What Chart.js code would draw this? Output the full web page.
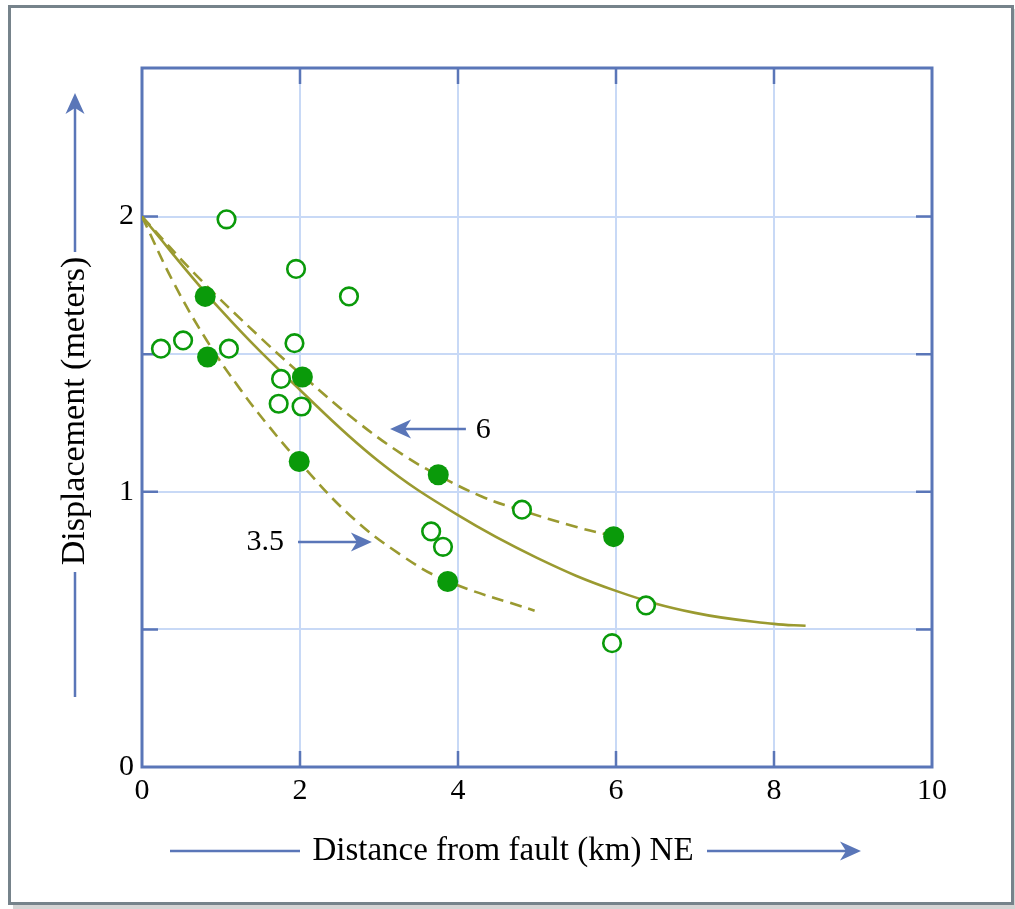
<!DOCTYPE html>
<html>
<head>
<meta charset="utf-8">
<script src="https://cdn.jsdelivr.net/npm/chart.js@4"></script>
<style>
  html, body { margin: 0; padding: 0; background: #fff; overflow: hidden; }
  #wrap { position: relative; width: 1015px; height: 909px; }
  #frame {
    position: absolute; left: 8px; top: 5px; width: 1000px; height: 894px;
    border: 3px solid #76838b; box-shadow: 5px 4px 0 #d4d4d4; pointer-events: none;
  }
</style>
</head>
<body>
<div id="wrap">
  <canvas id="faultChart"></canvas>
  <div id="frame"></div>
</div>
<script>
// measured points (km from fault, displacement in m)
var openX = [1.07, 1.95, 2.62, 0.24, 0.52, 1.10, 1.93, 1.76, 1.73, 2.02, 3.66, 3.81, 4.81, 6.38, 5.95];
var openY = [1.99, 1.81, 1.71, 1.52, 1.55, 1.52, 1.54, 1.41, 1.32, 1.31, 0.856, 0.80, 0.935, 0.587, 0.45];
var filledX = [0.80, 0.83, 2.03, 1.99, 3.75, 3.87, 5.97];
var filledY = [1.71, 1.49, 1.417, 1.11, 1.062, 0.674, 0.837];

// fitted curves
var solidX = [0, 1, 2, 3, 4, 5, 6, 7, 8, 8.4];
var solidY = [2.0, 1.66, 1.37, 1.11, 0.915, 0.76, 0.64, 0.56, 0.52, 0.513];
var upperX = [0, 0.7, 1.5, 2.1, 2.7, 3.3, 3.75, 4.3, 4.8, 5.5, 6.0];
var upperY = [2, 1.783, 1.56, 1.405, 1.26, 1.135, 1.06, 0.983, 0.933, 0.872, 0.837];
var lowerX = [0, 0.4, 0.82, 1.24, 1.62, 1.98, 2.63, 3.27, 3.86, 4.97];
var lowerY = [2, 1.76, 1.55, 1.374, 1.233, 1.112, 0.915, 0.772, 0.676, 0.568];

var xTicks = [0, 2, 4, 6, 8, 10];
var yTicks = [0, 0.5, 1, 1.5, 2];
var yLabels = ['0', '', '1', '', '2'];

var curveLabels = ['6', '3.5'];

var xTitle = 'Distance from fault (km) NE';
var yTitle = 'Displacement (meters)';

var GREEN = '#0a9a0a';
var OLIVE = '#9a9a30';
var BLUE = '#5a76b8';
var GRID = '#c8d9f6';
var SERIF = '"Liberation Serif", "Times New Roman", serif';

function pts(xs, ys) {
  return xs.map(function (x, i) { return { x: x, y: ys[i] }; });
}

function arrowHead(ctx, tx, ty, dir) {
  // dir: angle the arrow points to
  ctx.save();
  ctx.translate(tx, ty);
  ctx.rotate(dir);
  ctx.beginPath();
  ctx.moveTo(0, 0);
  ctx.lineTo(-21, -9.5);
  ctx.lineTo(-15, 0);
  ctx.lineTo(-21, 9.5);
  ctx.closePath();
  ctx.fill();
  ctx.restore();
}

var frameAndLabels = {
  id: 'frameAndLabels',
  beforeDatasetsDraw: function (chart) {
    var ctx = chart.ctx, a = chart.chartArea;
    var xs = chart.scales.x, ys = chart.scales.y;
    ctx.save();
    ctx.strokeStyle = BLUE;
    ctx.lineWidth = 3;
    ctx.strokeRect(a.left, a.top, a.right - a.left, a.bottom - a.top);
    ctx.lineWidth = 2.5;
    ctx.beginPath();
    yTicks.forEach(function (v) {
      if (v === 0) return;
      var py = ys.getPixelForValue(v);
      ctx.moveTo(a.left, py); ctx.lineTo(a.left + 16, py);
      ctx.moveTo(a.right, py); ctx.lineTo(a.right - 16, py);
    });
    xTicks.forEach(function (v) {
      if (v === 0 || v === 10) return;
      var px = xs.getPixelForValue(v);
      ctx.moveTo(px, a.bottom); ctx.lineTo(px, a.bottom - 16);
      ctx.moveTo(px, a.top); ctx.lineTo(px, a.top + 16);
    });
    ctx.stroke();
    ctx.restore();
  },
  afterDraw: function (chart) {
    var ctx = chart.ctx;
    var xs = chart.scales.x, ys = chart.scales.y;
    ctx.save();
    ctx.fillStyle = '#000';
    ctx.strokeStyle = BLUE;
    ctx.lineWidth = 2.5;

    // curve annotations with arrows
    ctx.font = '30px ' + SERIF;
    ctx.textAlign = 'center';
    ctx.textBaseline = 'middle';
    ctx.fillText(curveLabels[0], xs.getPixelForValue(4.32), ys.getPixelForValue(1.225));
    ctx.fillText(curveLabels[1], xs.getPixelForValue(1.56), ys.getPixelForValue(0.818));

    var y6 = ys.getPixelForValue(1.228);
    ctx.beginPath();
    ctx.moveTo(xs.getPixelForValue(4.10), y6);
    ctx.lineTo(xs.getPixelForValue(3.20), y6);
    ctx.stroke();
    ctx.fillStyle = BLUE;
    arrowHead(ctx, xs.getPixelForValue(3.14), y6, Math.PI);

    var y35 = ys.getPixelForValue(0.818);
    ctx.beginPath();
    ctx.moveTo(xs.getPixelForValue(1.975), y35);
    ctx.lineTo(xs.getPixelForValue(2.85), y35);
    ctx.stroke();
    arrowHead(ctx, xs.getPixelForValue(2.91), y35, 0);

    // x axis title with arrow
    ctx.fillStyle = '#000';
    ctx.font = '33px ' + SERIF;
    ctx.fillText(xTitle, 503, 851);
    ctx.beginPath();
    ctx.moveTo(170, 851); ctx.lineTo(300, 851);
    ctx.moveTo(707, 851); ctx.lineTo(855, 851);
    ctx.stroke();
    ctx.fillStyle = BLUE;
    arrowHead(ctx, 861, 851, 0);

    // y axis title with arrow
    ctx.save();
    ctx.translate(75, 411);
    ctx.rotate(-Math.PI / 2);
    ctx.fillStyle = '#000';
    ctx.font = '34px ' + SERIF;
    ctx.fillText(yTitle, 0, 0);
    ctx.restore();
    ctx.beginPath();
    ctx.moveTo(75, 252); ctx.lineTo(75, 100);
    ctx.moveTo(75, 572); ctx.lineTo(75, 697);
    ctx.stroke();
    arrowHead(ctx, 75, 93, -Math.PI / 2);
    ctx.restore();
  }
};

var ctx = document.getElementById('faultChart').getContext('2d');
var faultChart = new Chart(ctx, {
  type: 'scatter',
  data: {
    datasets: [{
      label: 'filled',
      data: pts(filledX, filledY),
      pointRadius: 10.5,
      pointBackgroundColor: GREEN,
      pointBorderColor: GREEN,
      pointBorderWidth: 0,
      order: 0
    }, {
      label: 'open',
      data: pts(openX, openY),
      pointRadius: 8.8,
      pointBackgroundColor: '#fff',
      pointBorderColor: GREEN,
      pointBorderWidth: 2.6,
      order: 0
    }, {
      label: 'mean',
      type: 'line',
      data: pts(solidX, solidY),
      borderColor: OLIVE,
      borderWidth: 2.6,
      pointRadius: 0,
      fill: false,
      tension: 0.4,
      order: 1
    }, {
      label: '6',
      type: 'line',
      data: pts(upperX, upperY),
      borderColor: OLIVE,
      borderWidth: 2.6,
      borderDash: [12, 7],
      pointRadius: 0,
      fill: false,
      tension: 0.4,
      order: 1
    }, {
      label: '3.5',
      type: 'line',
      data: pts(lowerX, lowerY),
      borderColor: OLIVE,
      borderWidth: 2.6,
      borderDash: [12, 7],
      pointRadius: 0,
      fill: false,
      tension: 0.4,
      order: 1
    }]
  },
  options: {
    responsive: true,
    maintainAspectRatio: false,
    animation: false,
    layout: { padding: { left: 0, right: 83, top: 68, bottom: 0 } },
    plugins: { legend: { display: false }, tooltip: { enabled: false } },
    scales: {
      x: {
        type: 'linear',
        min: 0,
        max: 10,
        afterFit: function (s) { s.height = 142; },
        afterBuildTicks: function (s) { s.ticks = xTicks.map(function (v) { return { value: v }; }); },
        grid: { color: GRID, lineWidth: 2, drawTicks: false },
        border: { display: false },
        ticks: { color: '#000', padding: 6, maxRotation: 0, font: { family: SERIF, size: 30 } }
      },
      y: {
        type: 'linear',
        min: 0,
        max: 2.54,
        afterFit: function (s) { s.width = 142; },
        afterBuildTicks: function (s) { s.ticks = yTicks.map(function (v) { return { value: v }; }); },
        grid: { color: GRID, lineWidth: 2, drawTicks: false },
        border: { display: false },
        ticks: {
          color: '#000',
          padding: 8,
          font: { family: SERIF, size: 30 },
          callback: function (v, i) { return yLabels[i]; }
        }
      }
    }
  },
  plugins: [frameAndLabels]
});
</script>
</body>
</html>
